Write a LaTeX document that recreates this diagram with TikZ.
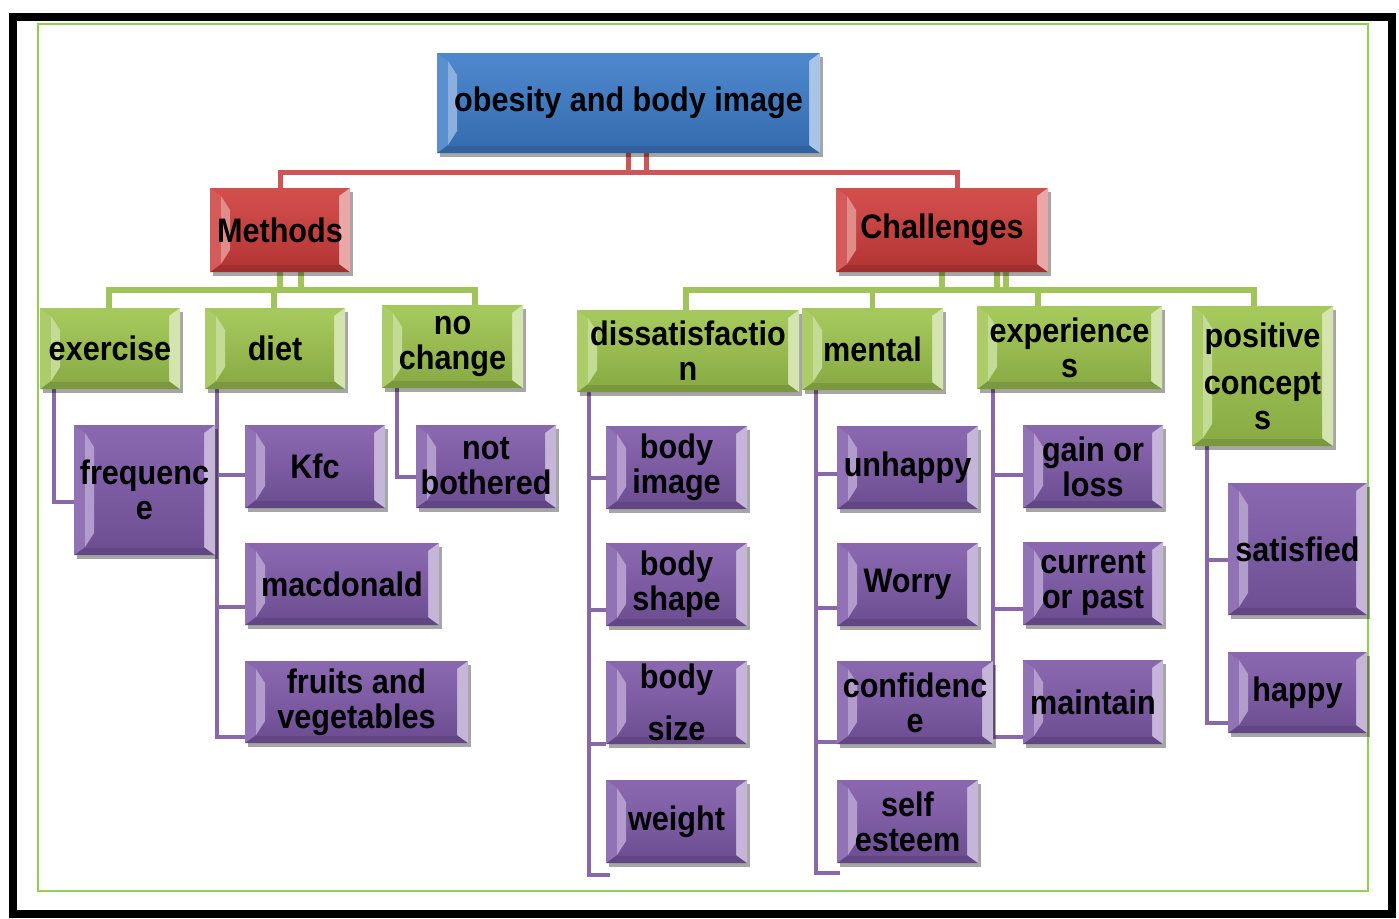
\documentclass[tikz,border=0pt]{standalone}
\usepackage{fontspec}
\newfontfamily\cond{Liberation Sans}[FakeStretch=0.9]
\usetikzlibrary{calc,shadows}
\pgfdeclarelayer{bg}
\pgfdeclarelayer{paper}
\pgfsetlayers{paper,bg,main}
\definecolor{cBlue}{RGB}{62,124,200}
\definecolor{cRed}{RGB}{205,62,60}
\definecolor{cGreen}{RGB}{157,195,78}
\definecolor{cPurple}{RGB}{126,90,168}
\definecolor{lRed}{RGB}{205,85,85}
\definecolor{lGreen}{RGB}{160,195,90}
\definecolor{lPurple}{RGB}{135,105,170}
\definecolor{frameGreen}{RGB}{146,208,80}
\newcommand\bevelpic[1]{%
  \coordinate (bnw) at (path picture bounding box.north west);
  \coordinate (bne) at (path picture bounding box.north east);
  \coordinate (bsw) at (path picture bounding box.south west);
  \coordinate (bse) at (path picture bounding box.south east);
  \coordinate (inw) at ($(bnw)+(11,8)$);
  \coordinate (ine) at ($(bne)+(-11,8)$);
  \coordinate (isw) at ($(bsw)+(11,-8)$);
  \coordinate (ise) at ($(bse)+(-11,-8)$);
  \fill[#1!92!white] (bnw) -- (bne) -- (ine) -- (inw) -- cycle;
  \fill[#1!78!black] (bsw) -- (bse) -- (ise) -- (isw) -- cycle;
  \fill[#1!85!white] (bnw) -- (inw) -- (isw) -- (bsw) -- cycle;
  \fill[#1!45!white] (bne) -- (ine) -- (ise) -- (bse) -- cycle;
  \shade[top color=#1!92!white, bottom color=#1!88!black] (inw) rectangle (ise);
  \fill[#1!60!white] (inw) -- ($(inw)+(9,14)$) -- ($(isw)+(9,-14)$) -- (isw) -- cycle;
}
\tikzset{
  box/.style={fill=#1, inner sep=0pt, align=center, text=black,
    font=\cond\bfseries\fontsize{34}{35}\selectfont,
    drop shadow={shadow xshift=3pt, shadow yshift=-4pt, opacity=0.35, fill=black},
    path picture={\bevelpic{#1}}},
  sz/.style 2 args={minimum width=#1pt, minimum height=#2pt},
  rline/.style={lRed, line width=5pt},
  gline/.style={lGreen, line width=5.5pt},
  pline/.style={lPurple, line width=4.5pt},
}
\begin{document}
\begin{tikzpicture}[x=1pt, y=-1pt]
\begin{pgfonlayer}{paper}
\useasboundingbox[fill=white] (0,0) rectangle (1399,918);
\draw[line width=8pt] (13,17) rectangle (1392,914);
\draw[frameGreen, line width=2.5pt] (38,24) rectangle (1368,891);
\end{pgfonlayer}

% level 0-1
\node[box=cBlue, sz={383}{100}] (root) at (628.5,103) {obesity and body image};
\node[box=cRed, sz={140}{84}] (methods) at (280,230) {Methods};
\node[box=cRed, sz={212}{84}] (challenges) at (942,230) {Challenges};

% level 2
\node[box=cGreen, sz={140}{81}] (exercise) at (110,348.5) {exercise};
\node[box=cGreen, sz={140}{81}] (diet) at (275,348.5) {diet};
\node[box=cGreen, sz={141}{83}] (nochange) at (452.5,346.5) {no\\change};
\node[box=cGreen, sz={222}{82}] (dissat) at (688,351) {dissatisfactio\\n};
\node[box=cGreen, sz={141}{82}] (mental) at (872.5,349) {mental};
\node[box=cGreen, sz={185}{83}] (exper) at (1069.5,347.5) {experience\\s};
\node[box=cGreen, sz={141}{140}] (positive) at (1262.5,376) {positive\\[12pt]concept\\s};

% level 3
\node[box=cPurple, sz={141}{130}] (frequence) at (144.5,490) {frequenc\\e};
\node[box=cPurple, sz={140}{83}] (kfc) at (315,466.5) {Kfc};
\node[box=cPurple, sz={194}{82}] (macdonald) at (342,584) {macdonald};
\node[box=cPurple, sz={223}{82}] (fruits) at (356.5,702) {fruits and\\vegetables};
\node[box=cPurple, sz={140}{83}] (notbothered) at (486,466.5) {not\\bothered};

\node[box=cPurple, sz={141}{83}] (bodyimage) at (676.5,467.5) {body\\image};
\node[box=cPurple, sz={141}{83}] (bodyshape) at (676.5,584.5) {body\\shape};
\node[box=cPurple, sz={141}{83}] (bodysize) at (676.5,702.5) {body\\[17pt]size};
\node[box=cPurple, sz={141}{83}] (weight) at (676.5,821.5) {weight};

\node[box=cPurple, sz={141}{83}] (unhappy) at (907.5,467.5) {unhappy};
\node[box=cPurple, sz={141}{83}] (worry) at (907.5,584.5) {Worry};
\node[box=cPurple, sz={156}{83}] (confidence) at (915,702.5) {confidenc\\e};
\node[box=cPurple, sz={141}{83}] (selfesteem) at (907.5,821.5) {self\\esteem};

\node[box=cPurple, sz={140}{83}] (gainloss) at (1093,466.5) {gain or\\loss};
\node[box=cPurple, sz={140}{83}] (current) at (1093,583.5) {current\\or past};
\node[box=cPurple, sz={140}{84}] (maintain) at (1093,702) {maintain};

\node[box=cPurple, sz={139}{132}] (satisfied) at (1297.5,549) {satisfied};
\node[box=cPurple, sz={139}{81}] (happy) at (1297.5,692.5) {happy};

\begin{pgfonlayer}{bg}
% red connectors
\draw[rline] (root.south) -- ++(0,19) -| (methods.north);
\draw[rline] (root.south) -- ++(0,19) -| ([xshift=15pt]challenges.north);
\draw[rline] ([xshift=18pt]root.south) -- ++(0,19);
% green connectors
\draw[gline] (methods.south) -- ++(0,18) -| ([xshift=-1pt]exercise.north);
\draw[gline] (methods.south) -- ++(0,18) -| ([xshift=-1pt]diet.north);
\draw[gline] (methods.south) -- ++(0,18) -| ([xshift=22.5pt]nochange.north);
\draw[gline] ([xshift=21pt]methods.south) -- ++(0,18);
\draw[gline] (challenges.south) -- ++(0,18) -| ([xshift=-2pt]dissat.north);
\draw[gline] (challenges.south) -- ++(0,18) -| (mental.north);
\draw[gline] (challenges.south) -- ++(0,18) -| ([xshift=-31.5pt]exper.north);
\draw[gline] (challenges.south) -- ++(0,18) -| ([xshift=-8.5pt]positive.north);
\draw[gline] ([xshift=55pt]challenges.south) -- ++(0,18);
\draw[gline] ([xshift=64pt]challenges.south) -- ++(0,18);
% purple connectors
\draw[pline] ([xshift=14pt]exercise.south west) |- ([yshift=-12pt]frequence.west);
\draw[pline] ([xshift=12pt]diet.south west) |- ([yshift=-35pt]fruits.west);
\draw[pline] ([xshift=12pt]diet.south west) |- ([yshift=-8.5pt]kfc.west);
\draw[pline] ([xshift=12pt]diet.south west) |- ([yshift=-23pt]macdonald.west);
\draw[pline] ([xshift=15pt]nochange.south west) |- ([yshift=-10.5pt]notbothered.west);

\draw[pline] ([xshift=12pt]dissat.south west) |- ([xshift=4pt,yshift=-53.5pt]weight.west);
\draw[pline] ([xshift=12pt]dissat.south west) |- ([yshift=-10.5pt]bodyimage.west);
\draw[pline] ([xshift=12pt]dissat.south west) |- ([yshift=-25.5pt]bodyshape.west);
\draw[pline] ([xshift=12pt]dissat.south west) |- ([yshift=-41.5pt]bodysize.west);

\draw[pline] ([xshift=14pt]mental.south west) |- ([xshift=3pt,yshift=-51.5pt]selfesteem.west);
\draw[pline] ([xshift=14pt]mental.south west) |- ([yshift=-6.5pt]unhappy.west);
\draw[pline] ([xshift=14pt]mental.south west) |- ([yshift=-23.5pt]worry.west);
\draw[pline] ([xshift=14pt]mental.south west) |- ([yshift=-39.5pt]confidence.west);

\draw[pline] ([xshift=16pt]exper.south west) |- ([yshift=-35pt]maintain.west);
\draw[pline] ([xshift=16pt]exper.south west) |- ([yshift=-8.5pt]gainloss.west);
\draw[pline] ([xshift=16pt]exper.south west) |- ([yshift=-25.5pt]current.west);

\draw[pline] ([xshift=15pt]positive.south west) |- ([yshift=-30.5pt]happy.west);
\draw[pline] ([xshift=15pt]positive.south west) |- ([yshift=-11pt]satisfied.west);
\end{pgfonlayer}
\end{tikzpicture}
\end{document}
